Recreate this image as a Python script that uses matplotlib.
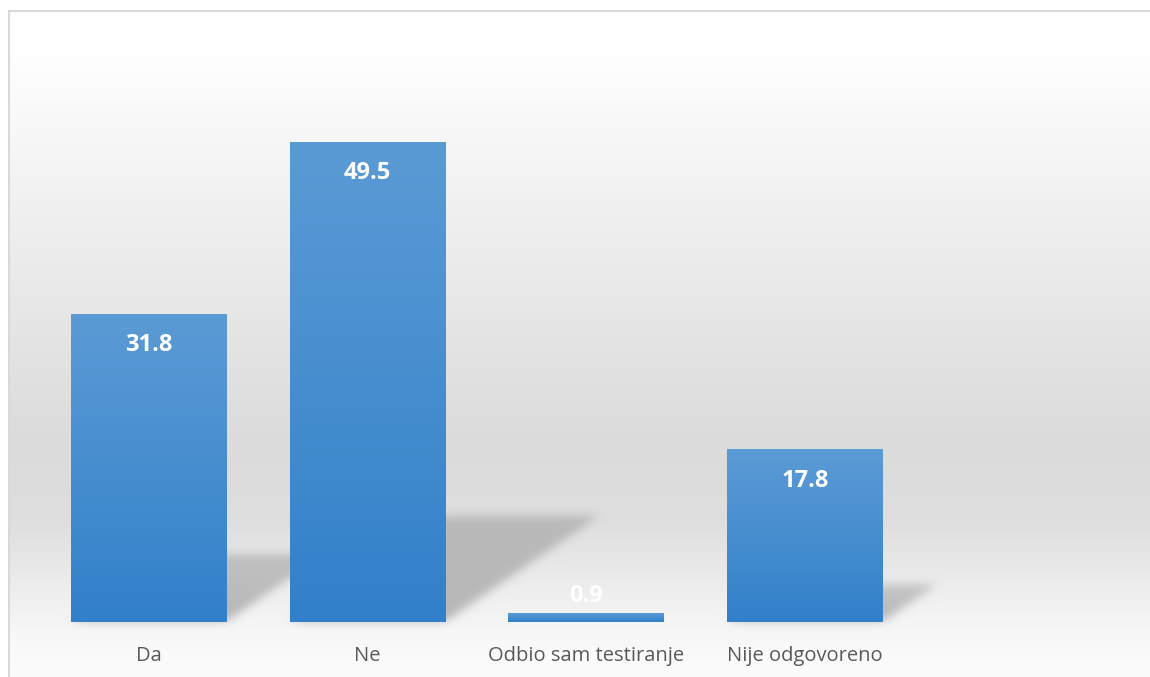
import numpy as np
import matplotlib.pyplot as plt
from matplotlib.patches import Rectangle

plt.rcParams['font.family'] = ['Open Sans', 'DejaVu Sans']

categories = ['Da', 'Ne', 'Odbio sam testiranje', 'Nije odgovoreno', '']
values = [31.8, 49.5, 0.9, 17.8]
value_labels = ['31.8', '49.5', '0.9', '17.8']

W, H = 1150, 677
BAR_W = 0.71
BAR_TOP = np.array([91, 155, 213]) / 255
BAR_BOT = np.array([50, 128, 202]) / 255


def gauss_blur(img, sigma):
    r = int(3 * sigma)
    k = np.exp(-0.5 * (np.arange(-r, r + 1) / sigma) ** 2)
    k /= k.sum()
    img = np.apply_along_axis(lambda a: np.convolve(a, k, mode='same'), 0, img)
    img = np.apply_along_axis(lambda a: np.convolve(a, k, mode='same'), 1, img)
    return img


fig = plt.figure(figsize=(W / 100, H / 100), dpi=100)

# backdrop axes in pixel units (gradient, shadows, frame)
bg = fig.add_axes([0, 0, 1, 1], zorder=0)
bg.set_xlim(0, W)
bg.set_ylim(0, H)
bg.axis('off')

ax = fig.add_axes([39 / W, 55 / H, 1094 / W, 582 / H], zorder=1)
ax.patch.set_alpha(0)
ax.set_xlim(-0.5, 4.5)
ax.set_ylim(0, 60)

# vertical grey gradient of the chart area (rows counted from top)
rows = np.arange(H)
gy = [0, 60, 200, 330, 440, 520, 600, 650, H]
gv = [255, 254, 241, 229, 219, 222, 240, 250, 252]
gray = np.interp(rows, gy, gv)[:, None] * np.ones((1, W)) / 255.0

# perspective shadows behind each bar
py, px = np.mgrid[0:H, 0:W]
py_up = H - 1 - py
alpha = np.zeros((H, W))
for i, v in enumerate(values):
    (x0, yb), (x1, yt) = ax.transData.transform([(i - BAR_W / 2, 0), (i + BAR_W / 2, v)])
    h = yt - yb
    sh = 0.22 * h
    if sh < 2:
        continue
    t = (py_up - yb) / sh
    shift = 0.32 * h * t
    inside = (t >= 0) & (t <= 1) & (px >= x0 + shift) & (px <= x1 + shift)
    alpha = np.maximum(alpha, np.where(inside, 0.25 * (1 - 0.35 * t), 0))
alpha = gauss_blur(alpha, 4.5)

img = gray * (1 - alpha)
img[:11, :] = 1.0
img[:, :9] = 1.0
bg.imshow(np.dstack([img] * 3), extent=(0, W, 0, H), origin='upper',
          aspect='auto', interpolation='bilinear', zorder=0)
bg.add_patch(Rectangle((8.5, -40), W + 80, H - 10.5 + 40, fill=False,
                       edgecolor='#d9d9d9', linewidth=1.5, zorder=1))
bg.set_xlim(0, W)
bg.set_ylim(0, H)

# bars with a top-to-bottom blue gradient
x = np.arange(len(values))
bars = ax.bar(x, values, width=BAR_W, color=BAR_BOT, linewidth=0, zorder=2)
ramp = np.linspace(0, 1, 256)[:, None, None]
grad = BAR_TOP * (1 - ramp) + BAR_BOT * ramp
for b in bars:
    im = ax.imshow(grad, extent=(b.get_x(), b.get_x() + b.get_width(), 0, b.get_height()),
                   origin='upper', aspect='auto', interpolation='bilinear', zorder=3)
    im.set_clip_path(b)

for i, (v, lab) in enumerate(zip(values, value_labels)):
    (_, y0), (_, y1) = ax.transData.transform([(0, 0), (0, v)])
    off = -22.5 if (y1 - y0) > 40 else 12.2
    ax.annotate(lab, (i, v), xytext=(0, off), textcoords='offset points',
                ha='center', va='center', color='white', fontsize=17,
                fontweight='bold', zorder=4)

ax.set_xlim(-0.5, 4.5)
ax.set_ylim(0, 60)
ax.set_xticks(range(len(categories)), categories)
ax.tick_params(axis='x', length=0, pad=17.5, labelsize=14.5, labelcolor='#595959')
ax.set_yticks([])
for s in ax.spines.values():
    s.set_visible(False)

fig.savefig('out.png', dpi=100)
